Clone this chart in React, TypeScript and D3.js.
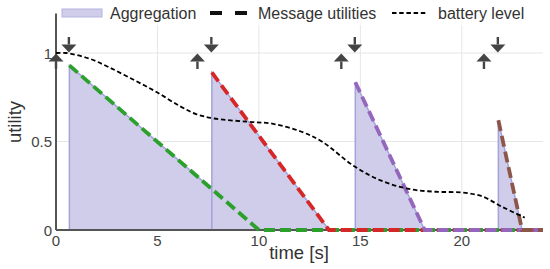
import React, { useEffect, useRef } from "react";
import * as d3 from "d3";

// message utilities: arrival time, utility at arrival, time it reaches zero
const msgStart = [0.66, 7.68, 14.75, 21.8];
const msgValue = [0.93, 0.89, 0.835, 0.62];
const msgZero = [10.0, 13.45, 18.17, 22.97];
const msgColors = ["#2ca02c", "#d62728", "#9467bd", "#8c564b"];

// request times (up arrows)
const sendTimes = [0, 6.97, 14.06, 21.09];

// battery level
const batteryTime = [0, 0.5, 1.6, 2.6, 3.8, 4.95, 6.1, 6.9, 7.8, 9.4, 10.7, 12.1, 13.1, 14.7, 16.0, 17.4, 18.7, 20.0, 21.0, 22.0, 23.1];
const batteryLevel = [1.0, 1.0, 0.97, 0.92, 0.85, 0.78, 0.7, 0.655, 0.63, 0.612, 0.6, 0.555, 0.5, 0.36, 0.28, 0.232, 0.216, 0.212, 0.19, 0.13, 0.07];

const xTicks = [0, 5, 10, 15, 20];
const yTicks = [0, 0.5, 1];
const yTickLabels = ["0", "0.5", "1"];

const W = 550;
const H = 269;
const FONT = "'Liberation Sans', Arial, sans-serif";

const App = () => {
  const ref = useRef<SVGSVGElement>(null);

  useEffect(() => {
    const svg = d3.select(ref.current);
    svg.selectAll("*").remove();

    const x = d3.scaleLinear().domain([0, 24]).range([56, 543]);
    const y = d3.scaleLinear().domain([0, 1.2]).range([230, 17.6]);

    // grid
    const grid = svg.append("g");
    grid
      .selectAll("line.v")
      .data(xTicks.slice(1))
      .enter()
      .append("line")
      .attr("x1", (d) => x(d))
      .attr("x2", (d) => x(d))
      .attr("y1", y(1.2))
      .attr("y2", y(0))
      .attr("stroke", "#e6e6e6")
      .attr("stroke-width", 1);
    grid
      .selectAll("line.h")
      .data(yTicks.slice(1))
      .enter()
      .append("line")
      .attr("x1", x(0))
      .attr("x2", x(24))
      .attr("y1", (d) => y(d))
      .attr("y2", (d) => y(d))
      .attr("stroke", "#e6e6e6")
      .attr("stroke-width", 1);

    const utility = (i: number, t: number) =>
      Math.max(0, (msgValue[i] * (msgZero[i] - t)) / (msgZero[i] - msgStart[i]));

    // aggregation: latest message utility
    const agg: [number, number][] = [[0, 0]];
    msgStart.forEach((s, i) => {
      const next = i + 1 < msgStart.length ? msgStart[i + 1] : 24;
      const e = Math.min(msgZero[i], next);
      agg.push([s, 0], [s, msgValue[i]], [e, utility(i, e)], [e, 0]);
    });
    agg.push([24, 0]);

    const area = d3
      .area<[number, number]>()
      .x((d) => x(d[0]))
      .y0(y(0))
      .y1((d) => y(d[1]));
    const line = d3
      .line<[number, number]>()
      .x((d) => x(d[0]))
      .y((d) => y(d[1]));

    svg.append("path").attr("d", area(agg)).attr("fill", "#cfcde9");
    svg
      .append("path")
      .attr("d", line(agg))
      .attr("fill", "none")
      .attr("stroke", "#a4a3dc")
      .attr("stroke-width", 1.5);

    // axes lines
    svg
      .append("line")
      .attr("x1", x(0))
      .attr("x2", x(24))
      .attr("y1", y(0))
      .attr("y2", y(0))
      .attr("stroke", "#555")
      .attr("stroke-width", 2);
    svg
      .append("line")
      .attr("x1", x(0))
      .attr("x2", x(0))
      .attr("y1", y(0))
      .attr("y2", y(1.2) - 4)
      .attr("stroke", "#555")
      .attr("stroke-width", 2);

    // message utility lines
    msgStart.forEach((s, i) => {
      const pts: [number, number][] = [
        [s, msgValue[i]],
        [msgZero[i], 0],
        [24, 0],
      ];
      svg
        .append("path")
        .attr("d", line(pts))
        .attr("fill", "none")
        .attr("stroke", msgColors[i])
        .attr("stroke-width", 3.8)
        .attr("stroke-dasharray", "11,5");
    });

    // battery level
    const battery: [number, number][] = batteryTime.map((t, i) => [t, batteryLevel[i]]);
    svg
      .append("path")
      .attr("d", line.curve(d3.curveCatmullRom)(battery))
      .attr("fill", "none")
      .attr("stroke", "#000")
      .attr("stroke-width", 1.8)
      .attr("stroke-dasharray", "4.5,2.7");

    // arrows
    const arrow = (cx: number, tip: number, dir: number) => {
      // dir = 1 pointing down, -1 pointing up
      const tail = tip - dir * 15.5;
      const base = tip - dir * 8;
      svg
        .append("line")
        .attr("x1", cx)
        .attr("x2", cx)
        .attr("y1", tail)
        .attr("y2", base)
        .attr("stroke", "#444")
        .attr("stroke-width", 2.4);
      svg
        .append("path")
        .attr("d", `M${cx - 7.5},${base}L${cx + 7.5},${base}L${cx},${tip}Z`)
        .attr("fill", "#444");
    };
    sendTimes.forEach((t) => arrow(x(t), y(1) + 0.5, -1));
    msgStart.forEach((t) => arrow(x(t) - 0.5, y(1) - 0.5, 1));

    // tick labels
    svg
      .selectAll("text.xt")
      .data(xTicks)
      .enter()
      .append("text")
      .attr("x", (d) => x(d))
      .attr("y", 246)
      .attr("text-anchor", "middle")
      .attr("font-family", FONT)
      .attr("font-size", 15)
      .attr("fill", "#444")
      .text((d) => d);
    svg
      .selectAll("text.yt")
      .data(yTicks)
      .enter()
      .append("text")
      .attr("x", 52)
      .attr("y", (d) => y(d) + 5.5)
      .attr("text-anchor", "end")
      .attr("font-family", FONT)
      .attr("font-size", 15)
      .attr("fill", "#444")
      .text((d, i) => yTickLabels[i]);

    // axis labels
    svg
      .append("text")
      .attr("x", 299)
      .attr("y", 259)
      .attr("text-anchor", "middle")
      .attr("font-family", FONT)
      .attr("font-size", 18.5)
      .attr("fill", "#333")
      .text("time [s]");
    svg
      .append("text")
      .attr("transform", "translate(21,122) rotate(-90)")
      .attr("text-anchor", "middle")
      .attr("font-family", FONT)
      .attr("font-size", 18.5)
      .attr("fill", "#333")
      .text("utility");

    // legend
    const lg = svg.append("g");
    lg.append("rect")
      .attr("x", 59)
      .attr("y", 0)
      .attr("width", 486)
      .attr("height", 25)
      .attr("fill", "#fff")
      .attr("opacity", 0.8);
    lg.append("rect")
      .attr("x", 62)
      .attr("y", 9)
      .attr("width", 40)
      .attr("height", 8)
      .attr("fill", "#cfcde9")
      .attr("stroke", "#b4b3e0")
      .attr("stroke-width", 1);
    lg.append("line")
      .attr("x1", 210)
      .attr("x2", 247)
      .attr("y1", 13)
      .attr("y2", 13)
      .attr("stroke", "#111")
      .attr("stroke-width", 4)
      .attr("stroke-dasharray", "12,13");
    lg.append("line")
      .attr("x1", 392)
      .attr("x2", 428)
      .attr("y1", 13)
      .attr("y2", 13)
      .attr("stroke", "#000")
      .attr("stroke-width", 1.8)
      .attr("stroke-dasharray", "4.5,2.7");
    const legendText = [
      [110, "Aggregation"],
      [258, "Message utilities"],
      [438, "battery level"],
    ];
    legendText.forEach(([lx, label]) => {
      lg.append("text")
        .attr("x", lx as number)
        .attr("y", 19)
        .attr("font-family", FONT)
        .attr("font-size", 16)
        .attr("fill", "#333")
        .text(label as string);
    });
  }, []);

  return (
    <svg
      ref={ref}
      width={W}
      height={H}
      style={{ position: "absolute", left: 0, top: 0, background: "#fff" }}
    />
  );
};

export default App;
